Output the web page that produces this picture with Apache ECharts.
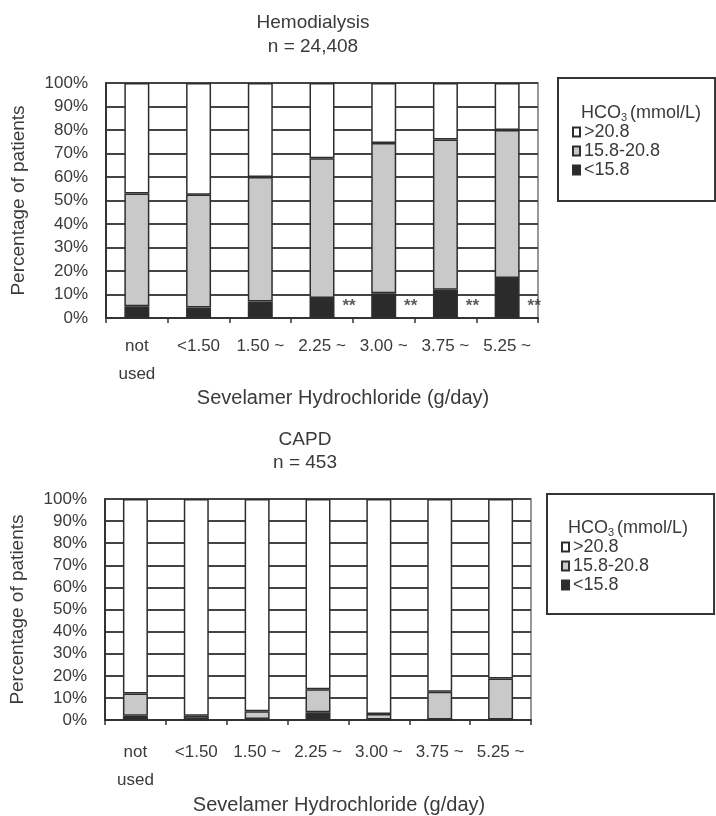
<!DOCTYPE html>
<html>
<head>
<meta charset="utf-8">
<script src="https://cdn.jsdelivr.net/npm/echarts@6/dist/echarts.min.js"></script>
<style>
  html, body { margin: 0; padding: 0; background: #fff; }
  #chart { width: 716px; height: 816px; }
</style>
</head>
<body>
<div id="chart"></div>
<script>
// Sevelamer dose groups (g/day)
const doseGroups = ['not\nused', '<1.50', '1.50 ~', '2.25 ~', '3.00 ~', '3.75 ~', '5.25 ~'];

// Serum HCO3 category names
const bandNames = ['>20.8', '15.8-20.8', '<15.8'];

// Hemodialysis, % of patients per HCO3 band
const hdLow = [5, 4.5, 7, 8.5, 10.5, 12, 17];
const hdMid = [48, 48, 53, 59.5, 64, 64, 63];
const hdHigh = [47, 47.5, 40, 32, 25.5, 24, 20];

// CAPD, % of patients per HCO3 band
const capdLow = [2, 0.5, 0.5, 3.5, 0.3, 0.3, 0.3];
const capdMid = [10, 1.5, 3.5, 10.5, 2.5, 12.5, 18.5];
const capdHigh = [88, 98, 96, 86, 97.2, 87.2, 81.2];

// Significance markers next to the hemodialysis bars (height in %)
const hdSignif = ['-', '-', '-', 6.5, 6.5, 6.5, 6.5];

const textColor = '#3a3a3a';
const font = 'Liberation Sans, Arial, sans-serif';
const fills = { high: '#ffffff', mid: '#c9c9c9', low: '#2b2b2b' };

function xAxisFor(gridIndex, labelMargin, nameGap) {
  return {
    type: 'category',
    gridIndex: gridIndex,
    data: doseGroups,
    axisLine: { show: true, lineStyle: { color: '#333', width: 2 } },
    axisTick: { show: true, length: 5, alignWithLabel: false, lineStyle: { color: '#333', width: 1.5 } },
    axisLabel: { color: textColor, fontSize: 17, fontFamily: font, margin: labelMargin, lineHeight: 28, interval: 0 },
    name: 'Sevelamer Hydrochloride (g/day)',
    nameLocation: 'middle',
    nameGap: nameGap,
    nameTextStyle: { color: textColor, fontSize: 20, fontFamily: font, padding: [0, 0, 0, 42] }
  };
}

function yAxisFor(gridIndex) {
  return {
    type: 'value',
    gridIndex: gridIndex,
    min: 0, max: 100, interval: 10,
    axisLine: { show: true, lineStyle: { color: '#333', width: 2 } },
    axisTick: { show: false },
    splitLine: { show: true, lineStyle: { color: '#444', width: 1.8 } },
    axisLabel: { color: textColor, fontSize: 17, fontFamily: font, margin: 18, formatter: '{value}%' },
    name: 'Percentage of patients',
    nameLocation: 'middle',
    nameGap: 78,
    nameTextStyle: { color: textColor, fontSize: 19, fontFamily: font }
  };
}

function barSeries(name, data, fill, gridIndex, stack) {
  return {
    type: 'bar',
    name: name,
    data: data,
    stack: stack,
    xAxisIndex: gridIndex,
    yAxisIndex: gridIndex,
    barWidth: 25,
    itemStyle: { color: fill, borderColor: '#2e2e2e', borderWidth: 1.5 },
    emphasis: { disabled: true },
    z: 3
  };
}

function legendFor(left, top, padding) {
  return {
    data: [bandNames[0], bandNames[1], bandNames[2]],
    orient: 'vertical',
    left: left,
    top: top,
    padding: padding,
    itemGap: 1,
    itemWidth: 7,
    itemHeight: 9,
    icon: 'rect',
    borderColor: '#333',
    borderWidth: 2,
    selectedMode: false,
    textStyle: { color: textColor, fontSize: 18, fontFamily: font, padding: [0, 0, 0, -1] }
  };
}

const legendTitleRich = {
  a: { fontSize: 18, fontFamily: font, fontWeight: 'normal', color: textColor },
  s: { fontSize: 11, fontFamily: font, fontWeight: 'normal', color: textColor, padding: [8, 3, 0, 0] }
};

const option = {
  backgroundColor: '#fff',
  animation: false,
  title: [
    { text: 'Hemodialysis\nn = 24,408', left: 308, top: 6, textAlign: 'center',
      textStyle: { color: textColor, fontSize: 19, fontWeight: 'normal', fontFamily: font, lineHeight: 24 } },
    { text: 'CAPD\nn = 453', left: 300, top: 423, textAlign: 'center',
      textStyle: { color: textColor, fontSize: 19, fontWeight: 'normal', fontFamily: font, lineHeight: 23 } },
    { text: '{a|HCO}{s|3}{a|(mmol/L)}', left: 576, top: 99,
      textStyle: { fontWeight: 'normal', rich: legendTitleRich } },
    { text: '{a|HCO}{s|3}{a|(mmol/L)}', left: 563, top: 514,
      textStyle: { fontWeight: 'normal', rich: legendTitleRich } }
  ],
  legend: [
    legendFor(558, 78, [45, 55, 22, 14]),
    legendFor(547, 494, [44, 65, 20, 14])
  ],
  grid: [
    { left: 106, right: 178, top: 83, height: 235, show: true, borderColor: '#777', borderWidth: 1.5, backgroundColor: 'transparent' },
    { left: 98, right: 185, top: 499, height: 236, show: true, borderColor: '#777', borderWidth: 1.5, backgroundColor: 'transparent' }
  ],
  xAxis: [xAxisFor(0, 14, 64), xAxisFor(1, 18, 60)],
  yAxis: [yAxisFor(0), yAxisFor(1)],
  series: [
    barSeries(bandNames[2], hdLow, fills.low, 0, 'hd'),
    barSeries(bandNames[1], hdMid, fills.mid, 0, 'hd'),
    barSeries(bandNames[0], hdHigh, fills.high, 0, 'hd'),
    barSeries(bandNames[2], capdLow, fills.low, 1, 'capd'),
    barSeries(bandNames[1], capdMid, fills.mid, 1, 'capd'),
    barSeries(bandNames[0], capdHigh, fills.high, 1, 'capd'),
    {
      type: 'scatter',
      name: 'signif',
      data: hdSignif,
      xAxisIndex: 0,
      yAxisIndex: 0,
      symbolSize: 1,
      itemStyle: { color: 'rgba(0,0,0,0)' },
      label: {
        show: true, position: 'inside', offset: [27, 4], formatter: '**',
        color: '#333', fontSize: 17, fontWeight: 'bold', fontFamily: font
      },
      emphasis: { disabled: true },
      z: 4
    }
  ]
};

const chart = echarts.init(document.getElementById('chart'), null, { renderer: 'canvas' });
chart.setOption(option);
</script>
</body>
</html>
